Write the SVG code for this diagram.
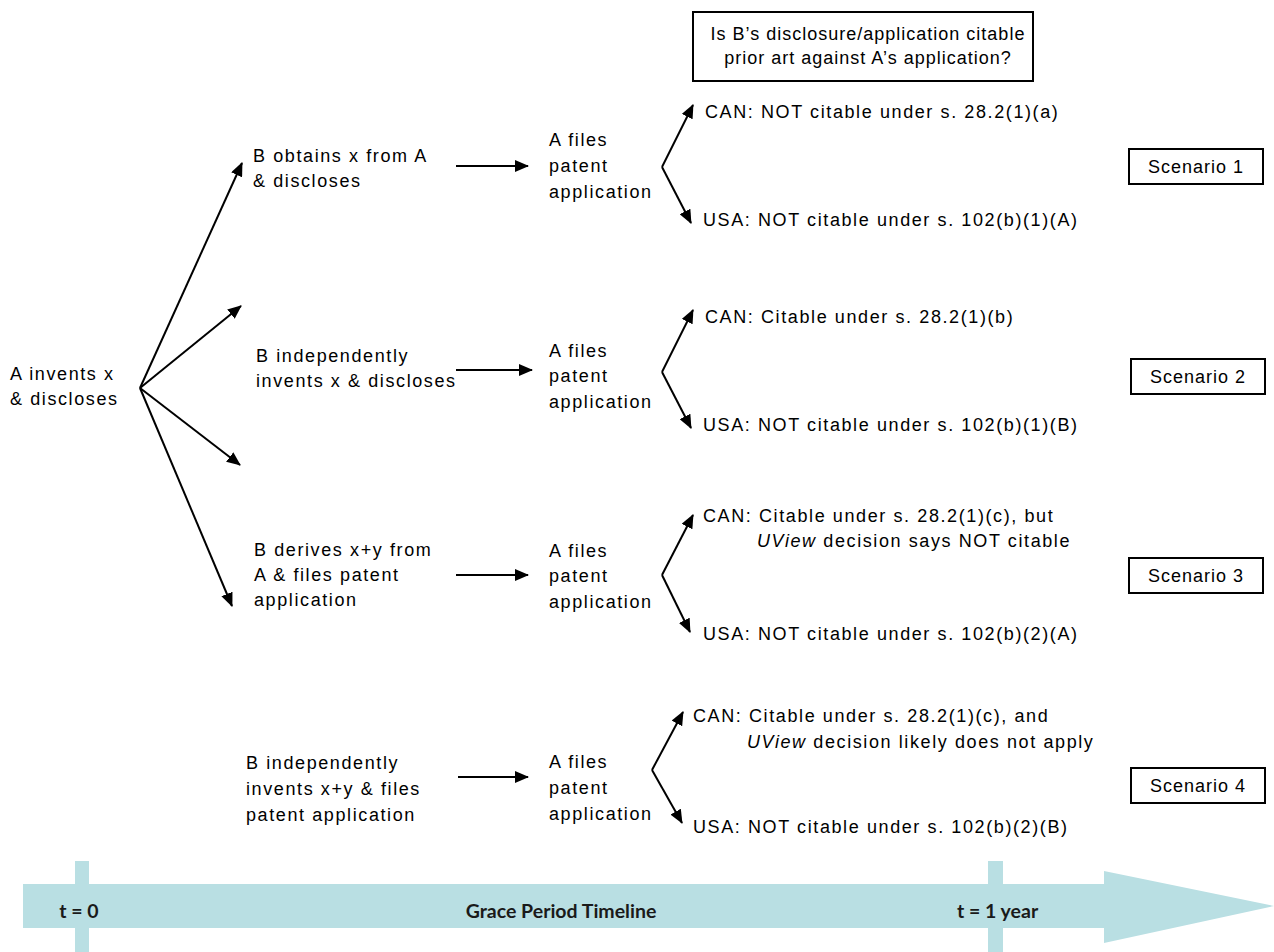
<svg xmlns="http://www.w3.org/2000/svg" width="1274" height="952" viewBox="0 0 1274 952">
<style>
.t{font-family:"Liberation Sans",Arial,sans-serif;font-size:18px;letter-spacing:1.6px;fill:#000}
.q{letter-spacing:1px}
.c{text-anchor:middle}
.box{fill:#fff;stroke:#000;stroke-width:2}
.ln{stroke:#000;stroke-width:2;fill:none;marker-end:url(#ah)}
.tl{fill:#b9dfe3}
.tt{font-family:Lato,Carlito,"Liberation Sans",sans-serif;font-size:19.5px;font-weight:bold;fill:#1a1a1a}
</style>
<defs>
<marker id="ah" markerUnits="userSpaceOnUse" markerWidth="14" markerHeight="12" refX="13" refY="6" orient="auto">
<path d="M0,0 L14,6 L0,12 z" fill="#000"/>
</marker>
</defs>
<rect width="1274" height="952" fill="#fff"/>

<g id="timeline">
<rect class="tl" x="75" y="861" width="14" height="91"/>
<rect class="tl" x="988" y="861" width="15" height="91"/>
<polygon class="tl" points="23,884 1104,884 1104,871 1274,906 1104,943 1104,928 23,928"/>
<text class="tt" x="79" y="918" text-anchor="middle">t = 0</text>
<text class="tt" x="561" y="918" text-anchor="middle">Grace Period Timeline</text>
<text class="tt" x="957" y="918">t = 1 year</text>
</g>

<g id="question">
<rect class="box" x="693" y="12" width="340" height="69"/>
<text class="t q c" x="868" y="40">Is B’s disclosure/application citable</text>
<text class="t q c" x="868" y="64">prior art against A’s application?</text>
</g>

<g id="connectors">
<line class="ln" x1="140" y1="388" x2="242" y2="163"/>
<line class="ln" x1="140" y1="388" x2="241" y2="306"/>
<line class="ln" x1="140" y1="388" x2="240" y2="465"/>
<line class="ln" x1="140" y1="388" x2="232" y2="606"/>
<line class="ln" x1="456" y1="166" x2="528" y2="166"/>
<line class="ln" x1="456" y1="370" x2="532" y2="370"/>
<line class="ln" x1="456" y1="575" x2="528" y2="575"/>
<line class="ln" x1="458" y1="777" x2="528" y2="777"/>
<line class="ln" x1="662" y1="167" x2="693" y2="105"/>
<line class="ln" x1="662" y1="167" x2="691" y2="223"/>
<line class="ln" x1="662" y1="372" x2="693" y2="310"/>
<line class="ln" x1="662" y1="372" x2="691" y2="428"/>
<line class="ln" x1="662" y1="575" x2="693" y2="515"/>
<line class="ln" x1="662" y1="575" x2="690" y2="632"/>
<line class="ln" x1="652" y1="770" x2="683" y2="712"/>
<line class="ln" x1="652" y1="770" x2="682" y2="823"/>
</g>

<g id="a-invents">
<text class="t" x="10" y="380">A invents x</text>
<text class="t" x="10" y="405">&amp; discloses</text>
</g>

<g id="b1">
<text class="t" x="253" y="162">B obtains x from A</text>
<text class="t" x="253" y="187">&amp; discloses</text>
</g>
<g id="b2">
<text class="t" x="256" y="362">B independently</text>
<text class="t" x="256" y="387">invents x &amp; discloses</text>
</g>
<g id="b3">
<text class="t" x="254" y="556">B derives x+y from</text>
<text class="t" x="254" y="581">A &amp; files patent</text>
<text class="t" x="254" y="606">application</text>
</g>
<g id="b4">
<text class="t" x="246" y="769">B independently</text>
<text class="t" x="246" y="795">invents x+y &amp; files</text>
<text class="t" x="246" y="821">patent application</text>
</g>

<g id="a1">
<text class="t" x="549" y="146">A files</text>
<text class="t" x="549" y="172">patent</text>
<text class="t" x="549" y="198">application</text>
</g>
<g id="a2">
<text class="t" x="549" y="357">A files</text>
<text class="t" x="549" y="382">patent</text>
<text class="t" x="549" y="408">application</text>
</g>
<g id="a3">
<text class="t" x="549" y="557">A files</text>
<text class="t" x="549" y="582">patent</text>
<text class="t" x="549" y="608">application</text>
</g>
<g id="a4">
<text class="t" x="549" y="768">A files</text>
<text class="t" x="549" y="794">patent</text>
<text class="t" x="549" y="820">application</text>
</g>

<g id="s1-can"><text class="t" x="705" y="118">CAN: NOT citable under s. 28.2(1)(a)</text></g>
<g id="s1-usa"><text class="t" x="703" y="226">USA: NOT citable under s. 102(b)(1)(A)</text></g>
<g id="s2-can"><text class="t" x="705" y="323">CAN: Citable under s. 28.2(1)(b)</text></g>
<g id="s2-usa"><text class="t" x="703" y="431">USA: NOT citable under s. 102(b)(1)(B)</text></g>
<g id="s3-can">
<text class="t" x="703" y="522">CAN: Citable under s. 28.2(1)(c), but</text>
<text class="t" x="757" y="547"><tspan font-style="italic">UView</tspan> decision says NOT citable</text>
</g>
<g id="s3-usa"><text class="t" x="703" y="640">USA: NOT citable under s. 102(b)(2)(A)</text></g>
<g id="s4-can">
<text class="t" x="693" y="722">CAN: Citable under s. 28.2(1)(c), and</text>
<text class="t" x="747" y="748"><tspan font-style="italic">UView</tspan> decision likely does not apply</text>
</g>
<g id="s4-usa"><text class="t" x="693" y="833">USA: NOT citable under s. 102(b)(2)(B)</text></g>

<g id="scenario1">
<rect class="box" x="1129" y="149" width="134" height="35"/>
<text class="t q c" x="1196" y="173">Scenario 1</text>
</g>
<g id="scenario2">
<rect class="box" x="1131" y="359" width="134" height="35"/>
<text class="t q c" x="1198" y="383">Scenario 2</text>
</g>
<g id="scenario3">
<rect class="box" x="1129" y="558" width="134" height="35"/>
<text class="t q c" x="1196" y="582">Scenario 3</text>
</g>
<g id="scenario4">
<rect class="box" x="1131" y="768" width="134" height="35"/>
<text class="t q c" x="1198" y="792">Scenario 4</text>
</g>
</svg>
